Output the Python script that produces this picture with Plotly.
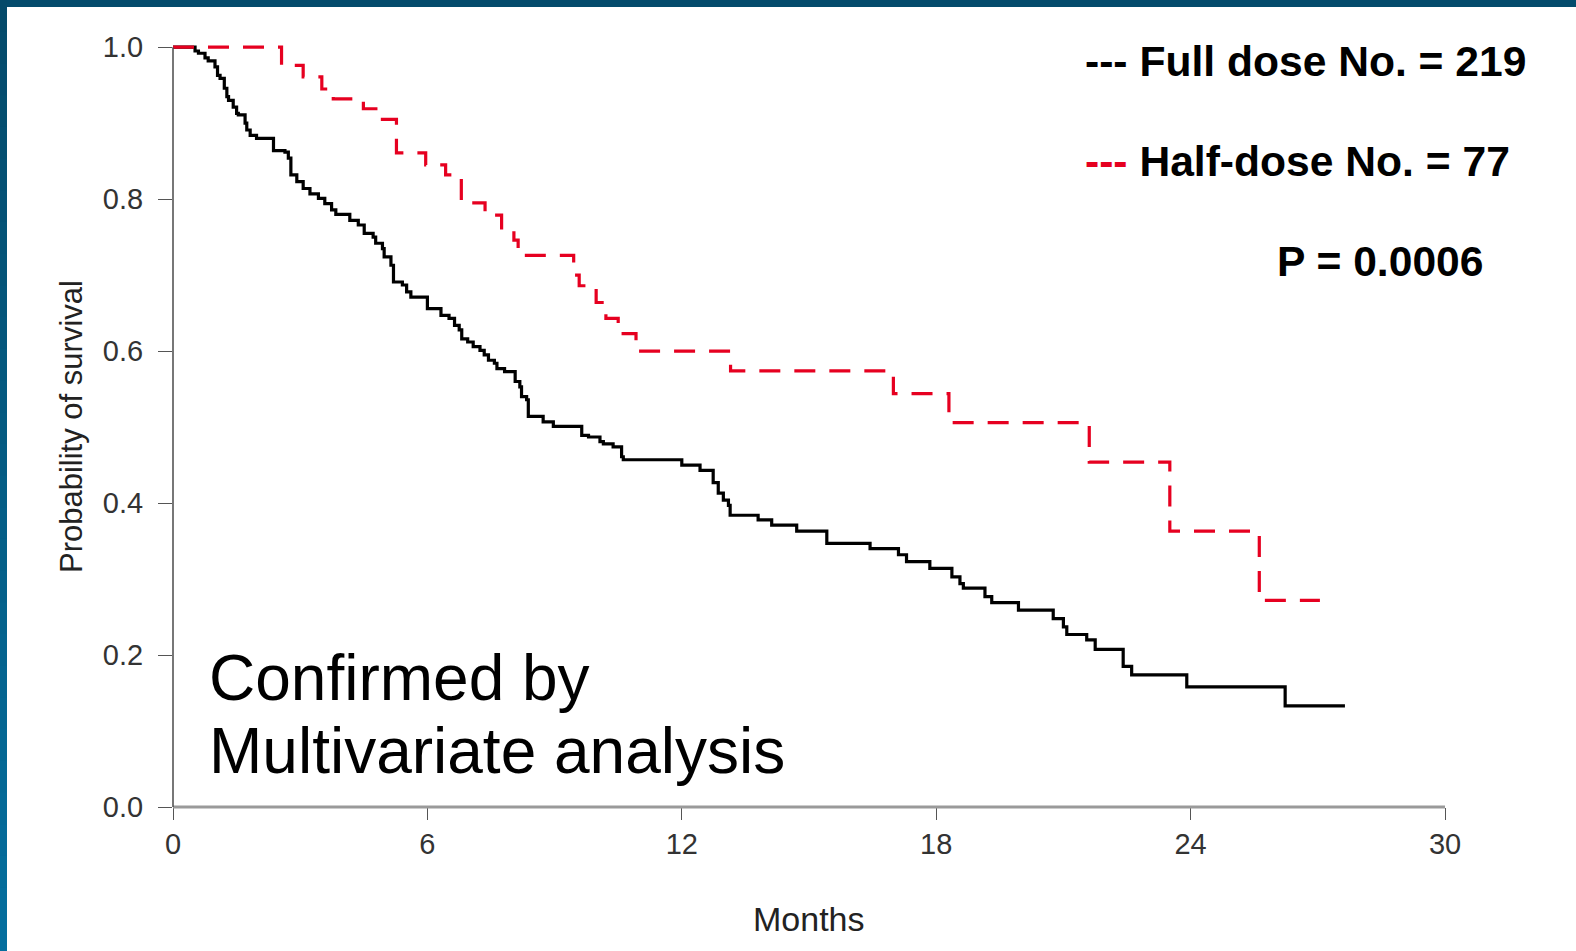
import plotly.graph_objects as go

# ---- data (months, survival probability after each step) ----
months_full = [0, 0.52, 0.60, 0.755, 0.83, 0.99, 1.05, 1.11, 1.21, 1.27,
               1.31, 1.42, 1.50, 1.54, 1.70, 1.74, 1.82, 1.97, 2.37, 2.64,
               2.72, 2.78, 2.92, 3.07, 3.23, 3.43, 3.58, 3.74, 3.84, 4.17,
               4.37, 4.51, 4.72, 4.78, 4.94, 4.98, 5.14, 5.20, 5.41, 5.51,
               5.61, 6.00, 6.32, 6.51, 6.64, 6.75, 6.81, 6.95, 7.08, 7.24,
               7.34, 7.44, 7.58, 7.64, 7.82, 8.07, 8.18, 8.22, 8.34, 8.38,
               8.73, 8.97, 9.64, 9.80, 10.07, 10.15, 10.38, 10.58, 10.62, 12.0,
               12.43, 12.74, 12.86, 12.98, 13.10, 13.14, 13.80, 14.12, 14.71, 15.42,
               16.44, 17.11, 17.30, 17.85, 18.37, 18.56, 18.64, 19.15, 19.31, 19.94,
               20.76, 21.0, 21.08, 21.55, 21.75, 22.41, 22.61, 23.91, 26.23, 27.64]
surv_full = [1.0, 0.995, 0.992, 0.986, 0.982, 0.974, 0.963, 0.959, 0.946, 0.935,
             0.930, 0.921, 0.913, 0.911, 0.900, 0.891, 0.884, 0.880, 0.864, 0.862,
             0.854, 0.832, 0.823, 0.814, 0.807, 0.801, 0.794, 0.786, 0.780, 0.772,
             0.766, 0.755, 0.750, 0.742, 0.735, 0.724, 0.713, 0.691, 0.687, 0.678,
             0.671, 0.656, 0.647, 0.643, 0.634, 0.628, 0.616, 0.612, 0.606, 0.601,
             0.595, 0.588, 0.584, 0.577, 0.573, 0.560, 0.553, 0.540, 0.536, 0.514,
             0.507, 0.501, 0.489, 0.487, 0.481, 0.478, 0.474, 0.461, 0.457, 0.450,
             0.443, 0.427, 0.413, 0.404, 0.397, 0.384, 0.378, 0.371, 0.363, 0.347,
             0.340, 0.332, 0.323, 0.314, 0.303, 0.294, 0.288, 0.277, 0.269, 0.259,
             0.248, 0.237, 0.227, 0.220, 0.2075, 0.185, 0.174, 0.158, 0.133, 0.133]

months_half = [0, 2.56, 3.07, 3.51, 3.78, 4.49, 4.88, 5.27, 5.96, 6.43,
               6.80, 7.36, 7.75, 8.04, 8.14, 9.45, 9.58, 9.98, 10.21, 10.50,
               10.92, 13.15, 16.99, 18.30, 21.61, 23.51, 25.62, 27.05]
surv_half = [1.0, 0.976, 0.961, 0.945, 0.932, 0.919, 0.905, 0.861, 0.845, 0.832,
             0.795, 0.779, 0.759, 0.746, 0.726, 0.700, 0.686, 0.664, 0.643, 0.623,
             0.600, 0.574, 0.544, 0.506, 0.454, 0.363, 0.272, 0.272]

x_ticks = [0, 6, 12, 18, 24, 30]
y_ticks = [0.0, 0.2, 0.4, 0.6, 0.8, 1.0]
y_tick_labels = ["0.0", "0.2", "0.4", "0.6", "0.8", "1.0"]

# ---- layout geometry ----
W, H = 1576, 951
ML, MR, MT, MB = 173, 131, 32, 144
PW, PH = W - ML - MR, H - MT - MB
Y_TOP = 1.02


def px(X):
    return (X - ML) / PW


def py(Y):
    return (H - MB - Y) / PH


RED = "#e60020"
FONT = "Liberation Sans, Arial, Helvetica, sans-serif"

fig = go.Figure()
fig.add_trace(go.Scatter(
    x=months_full, y=surv_full, mode="lines",
    line=dict(shape="hv", color="black", width=3.2),
    name="Full dose", hoverinfo="skip"))
fig.add_trace(go.Scatter(
    x=months_half, y=surv_half, mode="lines",
    line=dict(shape="hv", color=RED, width=3.2, dash="21px,14px"),
    name="Half-dose", hoverinfo="skip"))

shapes = []
# top strip
shapes.append(dict(type="rect", xref="paper", yref="paper",
                   x0=px(0), x1=px(W), y0=py(7), y1=py(0),
                   fillcolor="#044b6c", line=dict(width=0), layer="above"))
# left strip with vertical gradient
n = 30
c0 = (4, 74, 106)
c1 = (4, 110, 158)
for i in range(n):
    f = i / (n - 1)
    col = "rgb(%d,%d,%d)" % tuple(round(c0[k] + (c1[k] - c0[k]) * f) for k in range(3))
    ya = H * i / n
    yb = H * (i + 1) / n + 1
    shapes.append(dict(type="rect", xref="paper", yref="paper",
                       x0=px(0), x1=px(7), y0=py(yb), y1=py(ya),
                       fillcolor=col, line=dict(width=0), layer="above"))
# axis lines (R style: span only the tick range)
shapes.append(dict(type="line", xref="paper", yref="paper",
                   x0=0, x1=1, y0=0, y1=0,
                   line=dict(color="#9a9a9a", width=3)))
shapes.append(dict(type="line", xref="paper", yref="paper",
                   x0=0, x1=0, y0=0, y1=1 / Y_TOP,
                   line=dict(color="#4a4a4a", width=1.5)))

annotations = [
    dict(text="Months", xref="paper", yref="paper", x=0.5, y=py(919),
         xanchor="center", yanchor="middle", showarrow=False,
         font=dict(size=34, color="#222222", family=FONT)),
    dict(text="Probability of survival", xref="paper", yref="paper",
         x=px(71), y=py(427), textangle=-90,
         xanchor="center", yanchor="middle", showarrow=False,
         font=dict(size=31, color="#222222", family=FONT)),
    dict(text="<b>--- Full dose No. = 219</b>", xref="paper", yref="paper",
         x=px(1083), y=py(61), xanchor="left", yanchor="middle", showarrow=False,
         font=dict(size=42.6, color="black", family=FONT)),
    dict(text="<b><span style='color:%s'>---</span> Half-dose No. = 77</b>" % RED,
         xref="paper", yref="paper",
         x=px(1083), y=py(161), xanchor="left", yanchor="middle", showarrow=False,
         font=dict(size=42.6, color="black", family=FONT)),
    dict(text="<b>P = 0.0006</b>", xref="paper", yref="paper",
         x=px(1275), y=py(261), xanchor="left", yanchor="middle", showarrow=False,
         font=dict(size=42.6, color="black", family=FONT)),
    dict(text="Confirmed by", xref="paper", yref="paper",
         x=px(207), y=py(678), xanchor="left", yanchor="middle", showarrow=False,
         font=dict(size=64, color="black", family=FONT)),
    dict(text="Multivariate analysis", xref="paper", yref="paper",
         x=px(207), y=py(751), xanchor="left", yanchor="middle", showarrow=False,
         font=dict(size=64, color="black", family=FONT)),
]

fig.update_layout(
    width=W, height=H,
    margin=dict(l=ML, r=MR, t=MT, b=MB, pad=0),
    paper_bgcolor="white", plot_bgcolor="white",
    showlegend=False,
    font=dict(family=FONT, color="#333333"),
    shapes=shapes,
    annotations=annotations,
)
fig.update_xaxes(
    range=[0, 30], tickvals=x_ticks, ticks="outside", ticklen=12,
    tickwidth=1.4, tickcolor="#555555", showline=False, showgrid=False,
    zeroline=False, tickfont=dict(size=29, color="#333333", family=FONT),
    ticklabelstandoff=-1, fixedrange=True)
fig.update_yaxes(
    range=[0, Y_TOP], tickvals=y_ticks, ticktext=y_tick_labels,
    ticks="outside", ticklen=14, tickwidth=1.4, tickcolor="#555555",
    showline=False, showgrid=False, zeroline=False,
    tickfont=dict(size=29, color="#333333", family=FONT),
    ticklabelstandoff=9, fixedrange=True)

fig.write_html("out.html", config={"displayModeBar": False},
               post_script="document.body.style.margin='0';document.body.style.overflow='hidden';")
